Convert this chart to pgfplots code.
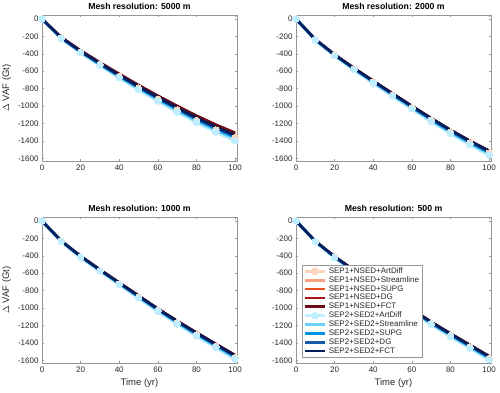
\documentclass[border=0pt]{standalone}
\usepackage{pgfplots}
\pgfplotsset{compat=1.18}
\usepackage{pgfplotstable}
\usepackage{fontspec}
\setmainfont{Liberation Sans}

% colours of the ten schemes
\definecolor{ca1}{RGB}{252,212,185}
\definecolor{cs1}{RGB}{249,160,128}
\definecolor{cu1}{RGB}{236,78,32}
\definecolor{cd1}{RGB}{168,20,22}
\definecolor{cf1}{RGB}{108,10,22}
\definecolor{ca2}{RGB}{190,238,255}
\definecolor{cs2}{RGB}{108,208,248}
\definecolor{cu2}{RGB}{0,148,228}
\definecolor{cd2}{RGB}{22,90,168}
\definecolor{cf2}{RGB}{2,30,92}
\definecolor{axgray}{RGB}{150,150,150}
\definecolor{txgray}{RGB}{40,40,40}

% Mesh resolution: 5000 m
\pgfplotstableread{
t    a1    s1    u1    d1    f1    a2    s2    u2    d2    f2
0    0     0     0     0     0     0     0     0     0     0
10  -220  -216  -213  -212  -210  -225  -221  -219  -217  -215
20  -380  -371  -367  -364  -362  -387  -381  -377  -373  -370
30  -523  -512  -506  -502  -499  -533  -525  -520  -514  -510
40  -661  -648  -640  -635  -630  -674  -664  -657  -650  -645
50  -795  -778  -769  -763  -758  -810  -798  -790  -781  -775
60  -923  -904  -893  -887  -880  -941  -927  -917  -907  -900
70  -1046 -1024 -1012 -1005 -997  -1066 -1051 -1039 -1028 -1020
80  -1164 -1140 -1126 -1118 -1109 -1186 -1169 -1156 -1144 -1135
90  -1272 -1245 -1231 -1221 -1212 -1296 -1277 -1263 -1249 -1240
100 -1360 -1340 -1325 -1315 -1305 -1395 -1375 -1360 -1345 -1335
}\tabA

% Mesh resolution: 2000 m
\pgfplotstableread{
t    a1    s1    u1    d1    f1    a2    s2    u2    d2    f2
0    0     0     0     0     0     0     0     0     0     0
10  -239  -236  -235  -235  -234  -242  -240  -238  -237  -235
20  -417  -411  -410  -410  -409  -422  -418  -415  -413  -410
30  -575  -567  -566  -565  -564  -582  -576  -572  -569  -565
40  -724  -714  -713  -712  -711  -733  -726  -721  -717  -712
50  -872  -860  -858  -857  -855  -883  -874  -868  -863  -857
60  -1017 -1003 -1002 -1000 -998  -1030 -1020 -1013 -1007 -1000
70  -1159 -1144 -1142 -1140 -1138 -1174 -1163 -1155 -1148 -1140
80  -1297 -1279 -1277 -1275 -1273 -1313 -1301 -1292 -1283 -1275
90  -1424 -1405 -1402 -1400 -1397 -1442 -1428 -1418 -1409 -1400
100 -1540 -1520 -1518 -1515 -1512 -1560 -1545 -1535 -1525 -1515
}\tabB

% Mesh resolution: 1000 m
\pgfplotstableread{
t    a1    s1    u1    d1    f1    a2    s2    u2    d2    f2
0    0     0     0     0     0     0     0     0     0     0
10  -234  -231  -230  -230  -230  -236  -234  -232  -231  -230
20  -412  -406  -404  -404  -404  -416  -411  -409  -407  -405
30  -570  -562  -559  -559  -559  -575  -569  -566  -563  -560
40  -722  -712  -708  -708  -708  -728  -721  -717  -713  -710
50  -874  -863  -858  -858  -858  -882  -874  -869  -864  -860
60  -1026 -1013 -1007 -1007 -1007 -1036 -1026 -1020 -1015 -1010
70  -1169 -1154 -1147 -1147 -1147 -1180 -1168 -1162 -1155 -1150
80  -1306 -1289 -1281 -1281 -1281 -1318 -1306 -1298 -1291 -1285
90  -1439 -1420 -1411 -1411 -1411 -1452 -1438 -1429 -1422 -1415
100 -1570 -1550 -1540 -1540 -1540 -1585 -1570 -1560 -1552 -1545
}\tabC

% Mesh resolution: 500 m
\pgfplotstableread{
t    a1    s1    u1    d1    f1    a2    s2    u2    d2    f2
0    0     0     0     0     0     0     0     0     0     0
10  -235  -233  -232  -232  -232  -237  -235  -234  -233  -232
20  -416  -412  -409  -409  -409  -419  -416  -414  -412  -410
30  -574  -568  -564  -564  -564  -578  -573  -571  -568  -565
40  -726  -718  -714  -714  -714  -731  -726  -722  -718  -715
50  -878  -869  -863  -863  -863  -884  -878  -874  -869  -865
60  -1031 -1020 -1013 -1013 -1013 -1038 -1030 -1025 -1020 -1015
70  -1178 -1166 -1158 -1158 -1158 -1186 -1177 -1172 -1166 -1160
80  -1315 -1301 -1292 -1292 -1292 -1324 -1314 -1308 -1301 -1295
90  -1447 -1431 -1422 -1422 -1422 -1457 -1446 -1439 -1431 -1425
100 -1578 -1562 -1552 -1552 -1552 -1590 -1578 -1570 -1562 -1555
}\tabD

\pgfplotsset{
  panel/.style={
    width=195pt, height=146pt, scale only axis,
    anchor=south west,
    xmin=0, xmax=101, ymin=-1630, ymax=45,
    xtick={0,20,...,100},
    ytick={-1600,-1400,...,0},
    tick align=inside,
    major tick length=2pt,
    axis line style={axgray, line width=0.5pt},
    tick style={axgray, line width=0.5pt},
    ticklabel style={font=\fontsize{8}{9}\selectfont, text=txgray},
    /pgf/number format/assume math mode=true,
    /pgf/number format/1000 sep={},
    label style={font=\fontsize{9.5}{11}\selectfont, text=txgray},
    title style={font=\bfseries\fontsize{8.7}{10}\selectfont, yshift=-4pt},
    legend cell align=left,
    every axis plot/.append style={line join=round},
  },
  sa1/.style={ca1, line width=3.5pt, mark=*, mark size=3.3pt, mark options={solid, fill=ca1, draw=ca1, line width=0pt}},
  ss1/.style={cs1, line width=3pt, no markers},
  su1/.style={cu1, line width=2.5pt, no markers},
  sd1/.style={cd1, line width=2.5pt, no markers},
  sf1/.style={cf1, line width=2.5pt, no markers},
  sa2/.style={ca2, line width=3.5pt, mark=*, mark size=3.3pt, mark options={solid, fill=ca2, draw=ca2, line width=0pt}},
  ss2/.style={cs2, line width=3pt, no markers},
  su2/.style={cu2, line width=2.5pt, no markers},
  sd2/.style={cd2, line width=2.5pt, no markers},
  sf2/.style={cf2, line width=2.7pt, no markers},
}

\newcommand{\allseries}[1]{%
  \addplot[sa1] table[x=t,y=a1]{#1};
  \addplot[ss1] table[x=t,y=s1]{#1};
  \addplot[su1] table[x=t,y=u1]{#1};
  \addplot[sd1] table[x=t,y=d1]{#1};
  \addplot[sf1] table[x=t,y=f1]{#1};
  \addplot[sa2] table[x=t,y=a2]{#1};
  \addplot[ss2] table[x=t,y=s2]{#1};
  \addplot[su2] table[x=t,y=u2]{#1};
  \addplot[sd2] table[x=t,y=d2]{#1};
  \addplot[sf2] table[x=t,y=f2]{#1};
}

\begin{document}
\begin{tikzpicture}[x=1pt,y=1pt]
\path[use as bounding box] (0,0) rectangle (500,393);

\begin{axis}[panel, at={(42pt,232pt)},
  title={Mesh resolution: 5000 m},
  ylabel={$\Delta$ VAF (Gt)}]
\allseries{\tabA}
\end{axis}

\begin{axis}[panel, at={(296pt,232pt)},
  title={Mesh resolution: 2000 m}]
\allseries{\tabB}
\end{axis}

\begin{axis}[panel, at={(42pt,30pt)},
  title={Mesh resolution: 1000 m},
  xlabel={Time (yr)},
  ylabel={$\Delta$ VAF (Gt)}]
\allseries{\tabC}
\end{axis}

\begin{axis}[panel, at={(296pt,30pt)},
  title={Mesh resolution: 500 m},
  xlabel={Time (yr)},
  legend style={at={(0.031,0.04)}, anchor=south west,
    font=\fontsize{8}{8}\selectfont, text=txgray,
    draw=axgray, line width=0.5pt, fill=white,
    inner xsep=1pt, inner ysep=0.3pt, row sep=-2.3pt},
  legend image code/.code={%
    \draw[mark repeat=2,mark phase=2,#1] plot coordinates {(0pt,0pt) (10pt,0pt) (20pt,0pt)};}]
\allseries{\tabD}
\legend{SEP1+NSED+ArtDiff, SEP1+NSED+Streamline, SEP1+NSED+SUPG,
  SEP1+NSED+DG, SEP1+NSED+FCT, SEP2+SED2+ArtDiff, SEP2+SED2+Streamline,
  SEP2+SED2+SUPG, SEP2+SED2+DG, SEP2+SED2+FCT}
\end{axis}
\end{tikzpicture}
\end{document}
